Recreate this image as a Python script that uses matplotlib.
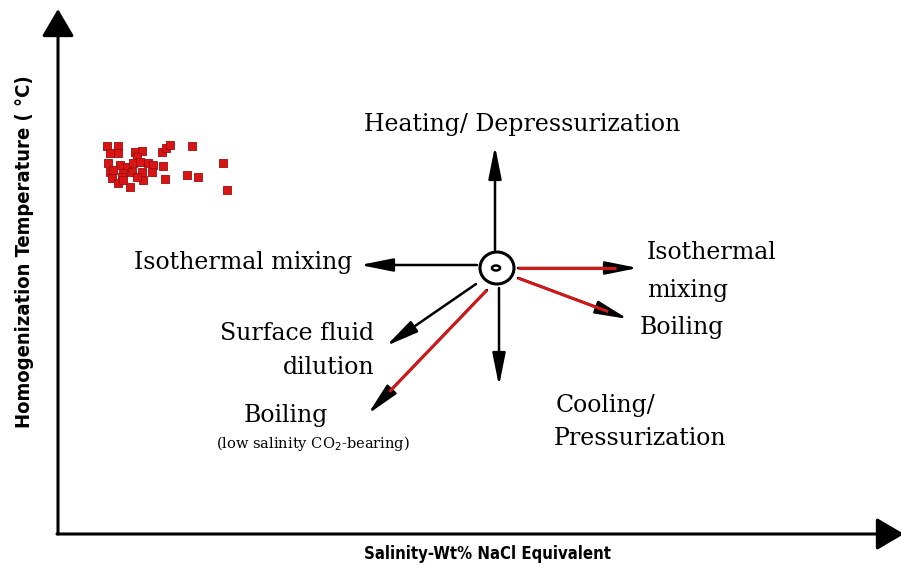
import matplotlib.pyplot as plt
from matplotlib.patches import Ellipse
from matplotlib import font_manager

# fluid inclusion data (pixel-space of the schematic: x right, y down)
incl_x = [107, 118, 110, 118, 135, 142, 137, 162, 166, 170, 192, 223, 227,
          108, 110, 120, 127, 133, 140, 148, 153, 163, 123, 132, 142, 152,
          112, 122, 118, 130, 143, 165, 187, 198, 123, 113, 137]
incl_y = [146, 146, 153, 153, 152, 151, 157, 152, 148, 145, 146, 163, 190,
          163, 172, 165, 167, 163, 162, 163, 165, 166, 173, 172, 172, 172,
          178, 177, 183, 187, 180, 179, 175, 177, 180, 170, 177]

# process arrows: (tail, head, colour)
centre = (497, 268)
arrows = [
    ((495, 250), (495, 146), 'black'),   # heating / depressurization
    ((477, 265), (360, 265), 'black'),   # isothermal mixing (left)
    ((518, 268), (638, 268), 'red'),     # isothermal mixing (right)
    ((518, 278), (628, 319), 'red'),     # boiling
    ((499, 288), (499, 386), 'black'),   # cooling / pressurization
    ((476, 284), (386, 346), 'black'),   # surface fluid dilution
    ((487, 290), (368, 414), 'red'),     # boiling, low salinity CO2
]

labels = [
    ('Heating/ Depressurization', 522, 124, 'center'),
    ('Isothermal mixing', 352, 262, 'right'),
    ('Isothermal', 647, 252, 'left'),
    ('mixing', 647, 290, 'left'),
    ('Boiling', 640, 327, 'left'),
    ('Surface fluid', 374, 333, 'right'),
    ('dilution', 374, 367, 'right'),
    ('Boiling', 286, 415, 'center'),
    ('Cooling/', 556, 405, 'left'),
    ('Pressurization', 554, 438, 'left'),
]

names = {f.name for f in font_manager.fontManager.ttflist}
sans = ['Liberation Sans Narrow', 'DejaVu Sans'] if 'Liberation Sans Narrow' in names else ['DejaVu Sans']

fig = plt.figure(figsize=(9.01, 5.69), dpi=100)
ax = fig.add_axes([0, 0, 1, 1])
ax.set_xlim(0, 901)
ax.set_ylim(569, 0)
ax.axis('off')

# axes frame with arrow heads
frame_style = '-|>,head_length=0.85,head_width=0.5'
ax.annotate('', xy=(58, 9), xytext=(58, 534), annotation_clip=False,
            arrowprops=dict(arrowstyle=frame_style, color='black', lw=2.2,
                            mutation_scale=20, shrinkA=0, shrinkB=0))
ax.annotate('', xy=(904, 534), xytext=(57, 534), annotation_clip=False,
            arrowprops=dict(arrowstyle=frame_style, color='black', lw=2.2,
                            mutation_scale=20, shrinkA=0, shrinkB=0))

ax.text(25, 252, 'Homogenization Temperature ( °C)', rotation=90, ha='center', va='center',
        fontsize=14.5, family=sans, fontstretch='condensed', fontweight='bold')
ax.text(487, 554, 'Salinity-Wt% NaCl Equivalent', ha='center', va='center',
        fontsize=12, family=sans, fontstretch='condensed', fontweight='bold')

ax.scatter(incl_x, incl_y, s=38, marker='s', color='#d81414', edgecolor='#9a0d0d',
           linewidth=0.6, zorder=3)

for tail, head, col in arrows:
    ax.annotate('', xy=head, xytext=tail,
                arrowprops=dict(arrowstyle='-|>,head_length=1.1,head_width=0.22',
                                color='black', lw=1.8, mutation_scale=18,
                                shrinkA=0, shrinkB=0))
    if col == 'red':
        fx = tail[0] + 0.82 * (head[0] - tail[0])
        fy = tail[1] + 0.82 * (head[1] - tail[1])
        ax.plot([tail[0], fx], [tail[1], fy], color='#d01818', lw=2.2,
                solid_capstyle='butt', zorder=4)

ax.add_patch(Ellipse(centre, 34, 32, fill=False, ec='black', lw=2.2))
ax.add_patch(Ellipse((centre[0] - 1, centre[1]), 8, 5, fill=False, ec='black', lw=1.8))

for txt, x, y, ha in labels:
    ax.text(x, y, txt, ha=ha, va='center', fontsize=17, family='DejaVu Serif')
ax.text(313, 443, '(low salinity CO$_2$-bearing)', ha='center', va='center',
        fontsize=10.5, family='DejaVu Serif')

fig.savefig('out.png', dpi=100)
